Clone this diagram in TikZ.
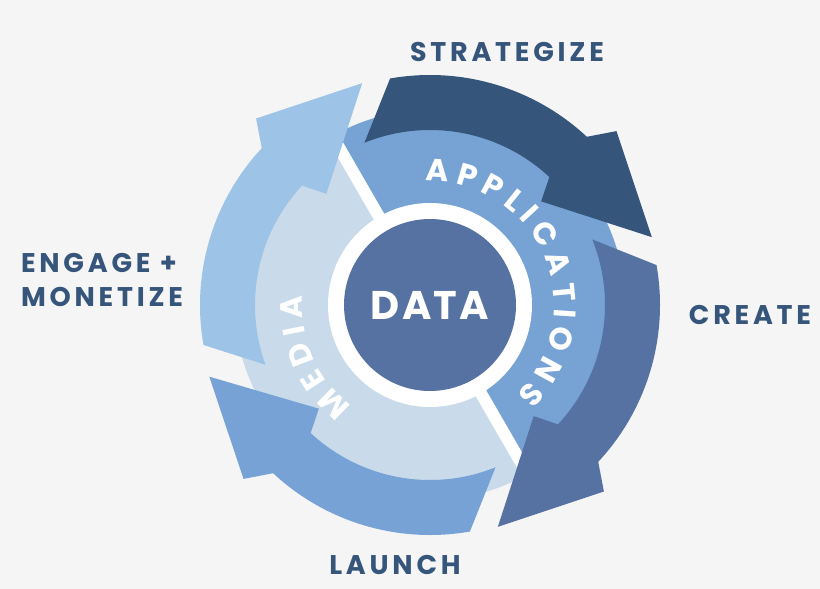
\documentclass[tikz,border=0pt]{standalone}
\usepackage{fontspec}
\setmainfont{Poppins}
\usetikzlibrary{decorations.text}
\definecolor{bg}{HTML}{F5F5F5}
\definecolor{cA}{HTML}{36557A}
\definecolor{cB}{HTML}{5572A3}
\definecolor{cC}{HTML}{76A2D6}
\definecolor{cD}{HTML}{9DC3E6}
\definecolor{cMed}{HTML}{C9DBEA}
\definecolor{cApp}{HTML}{76A2D4}
\definecolor{cData}{HTML}{5572A3}
\tikzset{lbl/.style={font=\bfseries\fontsize{27}{34}\selectfont\addfontfeature{LetterSpace=14}, text=cA}}
% tail angle outer, tail angle inner, head base angle, tip angle
\newcommand{\cycarrow}[5]{%
  \fill[#5] (#1:230) arc[start angle=#1,end angle=#3+4,radius=230] -- (#3:255) -- (#4:232)
   -- (#3:152) -- (#3+4:175) arc[start angle=#3+4,end angle=#2,radius=175] -- cycle;}
\begin{document}
\begin{tikzpicture}[x=1pt,y=1pt]
\fill[bg] (0,0) rectangle (820,-589);
\useasboundingbox (0,0) rectangle (820,-589);
\begin{scope}[shift={(430,-305)}]
  \fill[cMed] (0,0) circle[radius=195];
  \fill[cApp] (0,0) -- (120:195) arc[start angle=120,end angle=-60,radius=195] -- cycle;
  \draw[white,line width=12pt] (0,0) -- (120:200);
  \draw[white,line width=12pt] (0,0) -- (-60:200);
  \cycarrow{190}{200}{133}{107}{cD}
  \cycarrow{100}{112}{43}{17}{cA}
  \cycarrow{10}{22}{-47}{-73}{cB}
  \cycarrow{-80}{-68}{-137}{-162}{cC}
  \fill[white] (0,0) circle[radius=102];
  \fill[cData] (0,0) circle[radius=86];
  \node[font=\bfseries\fontsize{40}{48}\selectfont\addfontfeature{LetterSpace=6},text=white] (data) at (0,0) {DATA};
  \path[decorate,decoration={text along path,text align=center,
     text={|\bfseries\fontsize{31}{36}\selectfont\color{white}|A P P L I C A T I O N S}}]
     (112:124) arc[start angle=112,end angle=-66,radius=124];
  \path[decorate,decoration={text along path,text align=center,
     text={|\bfseries\fontsize{31}{36}\selectfont\color{white}|M E D I A}}]
     (240:128) arc[start angle=240,end angle=168,radius=128];
\end{scope}
\node[lbl] (s) at (507,-52) {STRATEGIZE};
\node[lbl] (c) at (750,-315) {CREATE};
\node[lbl] (l) at (395,-565) {LAUNCH};
\node[lbl,align=left] (e) at (102,-280) {ENGAGE +\\MONETIZE};
\end{tikzpicture}
\end{document}
